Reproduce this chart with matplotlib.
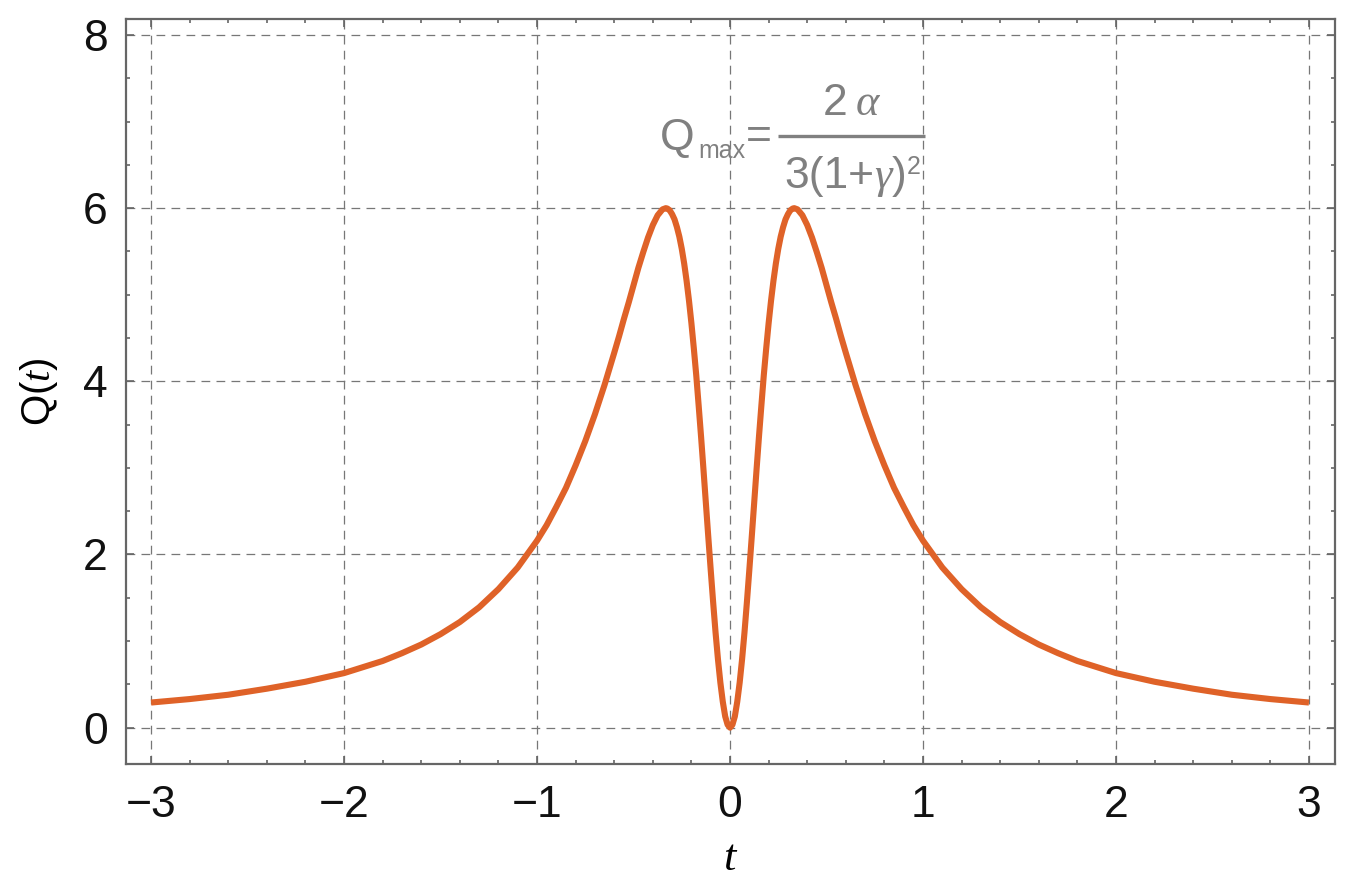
import matplotlib
matplotlib.use("Agg")
import matplotlib.pyplot as plt
from matplotlib.font_manager import FontProperties
import numpy as np

# values (right half; curve is symmetric)
t_pos = [0.0, 0.0125, 0.025, 0.0375, 0.05, 0.0625, 0.075, 0.0875, 0.1, 0.1125,
         0.125, 0.1375, 0.15, 0.1625, 0.175, 0.1875, 0.2, 0.2125, 0.225, 0.2375,
         0.25, 0.2625, 0.275, 0.2875, 0.3, 0.3125, 0.325, 0.333, 0.35, 0.375,
         0.4, 0.425, 0.45, 0.475, 0.5, 0.525, 0.55, 0.575, 0.6, 0.65, 0.7,
         0.75, 0.8, 0.85, 0.9, 0.95, 1.0, 1.1, 1.2, 1.3, 1.4, 1.5, 1.6, 1.7,
         1.8, 1.9, 2.0, 2.2, 2.4, 2.6, 2.8, 3.0]
q_pos = [0.0, 0.034, 0.13, 0.30, 0.52, 0.79, 1.10, 1.45, 1.82, 2.20,
         2.59, 2.98, 3.36, 3.72, 4.07, 4.38, 4.67, 4.93, 5.16, 5.36,
         5.53, 5.67, 5.78, 5.87, 5.93, 5.975, 5.996, 6.0, 5.986, 5.918,
         5.805, 5.66, 5.49, 5.31, 5.11, 4.91, 4.72, 4.52, 4.33, 3.96, 3.62,
         3.31, 3.03, 2.77, 2.55, 2.34, 2.16, 1.85, 1.60, 1.39, 1.22, 1.08, 0.96, 0.86,
         0.77, 0.70, 0.63, 0.53, 0.45, 0.38, 0.33, 0.29]

t_vals = [-v for v in t_pos[::-1]] + t_pos[1:]
q_vals = q_pos[::-1] + q_pos[1:]

x_ticks = [-3, -2, -1, 0, 1, 2, 3]
y_ticks = [0, 2, 4, 6, 8]

FONT = "Liberation Sans"
plt.rcParams['font.family'] = [FONT, 'DejaVu Sans']
plt.rcParams['mathtext.fontset'] = 'custom'
plt.rcParams['mathtext.rm'] = 'Liberation Sans'
plt.rcParams['mathtext.it'] = 'Liberation Serif:italic'

W, H = 1353, 892
fig = plt.figure(figsize=(W / 100, H / 100), dpi=100)
ax = fig.add_axes([126/W, 1-764/H, (1335-126)/W, (764-19)/H])

ax.plot(t_vals, q_vals, color='#DF6228', lw=4.4, solid_capstyle='butt',
        solid_joinstyle='round', zorder=3)

ax.set_xlim(-3.13, 3.135)
ax.set_ylim(-0.42, 8.185)
ax.set_xticks(x_ticks)
ax.set_yticks(y_ticks)
ax.set_xticks(np.arange(-3, 3.01, 0.2), minor=True)
ax.set_yticks(np.arange(-0.0, 8.01, 0.5), minor=True)
ax.set_xticklabels([("\u2212%d" % -v) if v < 0 else str(v) for v in x_ticks])
ax.set_yticklabels([str(v) for v in y_ticks])

frame_c = '#666666'
for s in ax.spines.values():
    s.set_color(frame_c)
    s.set_linewidth(1.6)
ax.tick_params(which='both', direction='in', top=True, right=True, color=frame_c,
               width=1.2, labelsize=32, labelcolor='#111111')
ax.tick_params(which='major', length=6)
ax.tick_params(which='minor', length=3.2)
ax.tick_params(axis='x', which='major', pad=15)
ax.tick_params(axis='y', which='major', pad=13)

ax.grid(True, which='major', color='#777777', lw=0.9, ls=(0, (7, 5)))
ax.set_axisbelow(True)

ax.set_xlabel(r'$t$', fontsize=32, labelpad=9)
ax.set_ylabel(r'$\mathrm{Q(}t\mathrm{)}$', fontsize=29, labelpad=17)

# annotation: pieces laid out left to right in pixel coordinates
gc = '#808080'
fig.canvas.draw()
renderer = fig.canvas.get_renderer()

def px(x, y):
    return x / W, 1 - y / H

sans = FontProperties(family='Liberation Sans', size=32)
sans_sub = FontProperties(family='Liberation Sans', size=18)
serif_it = FontProperties(family='Liberation Serif', style='italic', size=32)

def put(x, y, s, fp):
    t = fig.text(*px(x, y), s, fontproperties=fp, color=gc, ha='left', va='baseline')
    bb = t.get_window_extent(renderer)
    return t, bb.width

def row(pieces, cx, y):
    # pieces: list of (text, fontprops, dy)
    widths = []
    tmp = []
    for s, fp, dy in pieces:
        t, w = put(0, y, s, fp)
        widths.append(w)
        tmp.append(t)
    total = sum(widths)
    x = cx - total / 2
    for t, w, (s, fp, dy) in zip(tmp, widths, pieces):
        t.set_position(px(x, y + dy))
        x += w

put(660, 150, 'Q', sans)
put(698, 158, 'max', sans_sub)
put(746, 149, '=', sans)
fig.add_artist(plt.Line2D([778 / W, 925 / W], [1 - 136 / H, 1 - 136 / H],
                          color=gc, lw=2.4, solid_capstyle='butt'))
row([('2', sans, 0), ('\u2009', sans, 0), ('\u03b1', serif_it, 0)], 851, 115)
row([('3(1+', sans, 0), ('\u03b3', serif_it, 0), (')', sans, 0),
     ('2', sans_sub, -14)], 852, 188)

fig.savefig('out.png', dpi=100)
